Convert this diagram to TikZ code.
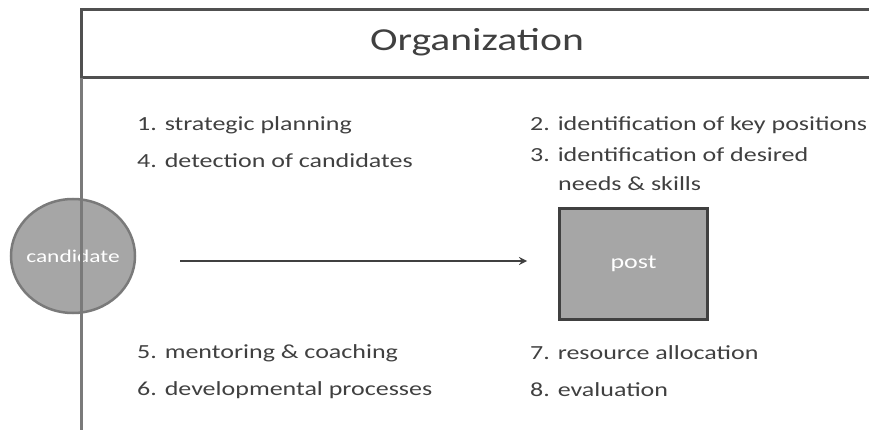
\documentclass[tikz,border=0pt]{standalone}
\usepackage{fontspec}
\setmainfont{Carlito}[FakeStretch=1.3]
\usepackage{tikz}
\usetikzlibrary{shapes.geometric}
\definecolor{framegray}{HTML}{505050}
\definecolor{linegray}{HTML}{7A7A7A}
\definecolor{fillgray}{HTML}{A6A6A6}
\definecolor{textgray}{HTML}{404040}
\tikzset{
    item/.style={anchor=west, inner sep=0pt, text=textgray, font=\fontsize{20}{24}\selectfont},
    inlabel/.style={text=white, font=\fontsize{20}{24}\selectfont},
}
\begin{document}
\begin{tikzpicture}[x=1pt, y=-1pt, >=stealth]
                \useasboundingbox (0,0) rectangle (869,430);

                % header of the organization
                \draw[framegray, line width=3pt] (869,10) -- (81,10) -- (81,78) -- (869,78);
                \node[text=textgray, font=\fontsize{32}{38}\selectfont] (org) at (477,42) {Organization};

                % candidate
                \node[ellipse, draw=linegray, fill=fillgray, line width=2.5pt, minimum width=124pt, minimum height=114pt, inner sep=0pt,
                      label={[inlabel, font=\fontsize{18}{22}\selectfont]center:candidate}] (cand) at (73,256) {};
                \draw[linegray, line width=3pt] (81,78) -- (81,430);

                % post
                \node[draw=textgray, fill=fillgray, line width=3pt, minimum width=148pt, minimum height=111pt, inner sep=0pt,
                      inlabel] (post) at (633.5,264) {post};

                \coordinate (start) at (180,261);
                \coordinate (stop) at (527,261);
                \draw[->, textgray, line width=2.5pt] (start) -- (stop);

                \node[item] (i1) at (137,125) {1. strategic planning};
                \node[item] (i4) at (137,161) {4. detection of candidates};
                \node[item] (i2) at (530,125) {2. identification of key positions};
                \node[item] (i3) at (530,155) {3. identification of desired};
                \node[item] (i3b) at (558,184) {needs \& skills};

                \node[item] (i5) at (137,353) {5. mentoring \& coaching};
                \node[item] (i6) at (137,390) {6. developmental processes};
                \node[item] (i7) at (530,353) {7. resource allocation};
                \node[item] (i8) at (530,390) {8. evaluation};
            \end{tikzpicture}
\end{document}
